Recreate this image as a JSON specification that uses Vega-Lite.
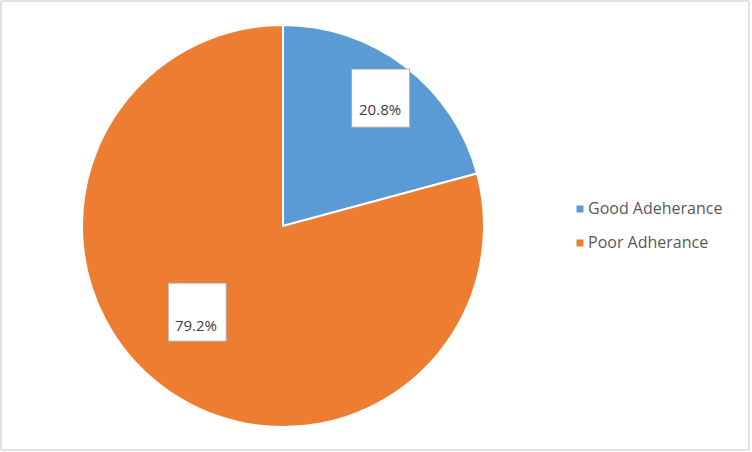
{
  "$schema": "https://vega.github.io/schema/vega-lite/v6.json",
  "width": 748,
  "height": 449,
  "padding": 1,
  "autosize": "none",
  "background": "white",
  "config": {"view": {"stroke": null}},
  "data": {"values": [
    {"category": "Good Adeherance", "value": 20.8, "label": "20.8%"},
    {"category": "Poor Adherance", "value": 79.2, "label": "79.2%"}
  ]},
  "layer": [
    {
      "mark": {"type": "rect", "fill": "white", "fillOpacity": 0, "stroke": "#d9d9d9", "strokeWidth": 1},
      "encoding": {}
    },
    {
      "mark": {"type": "arc", "outerRadius": 201, "x": 282, "y": 225, "stroke": "white", "strokeWidth": 2},
      "encoding": {
        "theta": {"field": "value", "type": "quantitative", "stack": true},
        "color": {
          "field": "category", "type": "nominal",
          "scale": {"range": ["#5B9BD5", "#ED7D31"]},
          "legend": {
            "title": null, "orient": "none", "legendX": 571, "legendY": 200,
            "symbolType": "square", "symbolSize": 49, "symbolStrokeWidth": 0,
            "labelFont": "Open Sans", "labelFontSize": 16, "labelColor": "#595959",
            "rowPadding": 18, "labelOffset": 0
          }
        }
      }
    },
    {
      "mark": {"type": "text", "text": "■", "radius": 141, "thetaOffset": 0.055, "x": 282, "y": 225, "dx": 6, "dy": -24, "font": "DejaVu Sans", "fontSize": 76, "fill": "white", "stroke": "#a6a6a6", "strokeWidth": 0.8},
      "encoding": {"theta": {"field": "value", "type": "quantitative", "stack": true}}
    },
    {
      "mark": {"type": "text", "radius": 142, "thetaOffset": 0.052, "x": 282, "y": 225, "dx": 5, "dy": -8, "font": "Open Sans", "fontSize": 15, "fill": "#404040"},
      "encoding": {
        "theta": {"field": "value", "type": "quantitative", "stack": true},
        "text": {"field": "label"}
      }
    }
  ]
}
